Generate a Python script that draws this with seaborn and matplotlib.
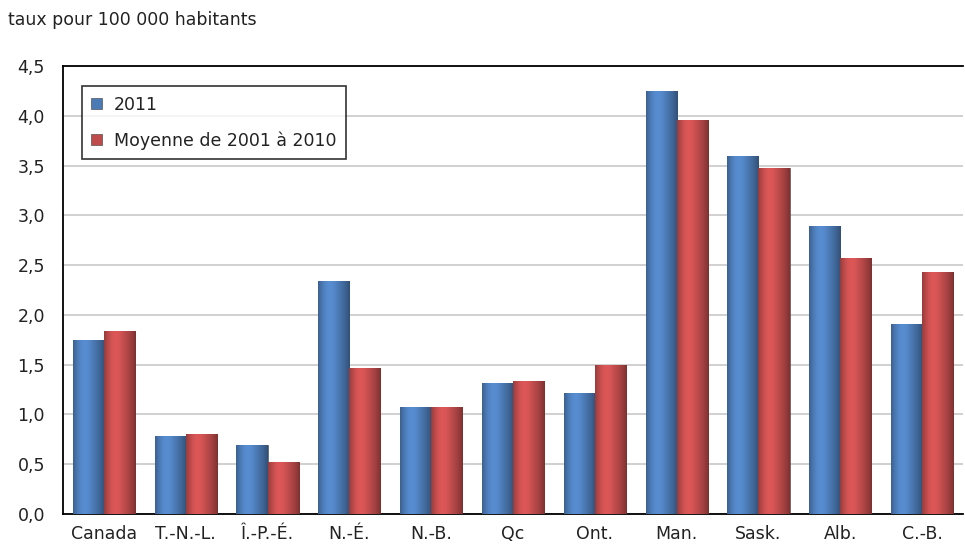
import numpy as np
import pandas as pd
import matplotlib
matplotlib.use("Agg")
import matplotlib.pyplot as plt
import seaborn as sns
from matplotlib.ticker import FuncFormatter, MultipleLocator, FixedLocator
from matplotlib.colors import to_rgb

regions = ["Canada", "T.-N.-L.", "Î.-P.-É.", "N.-É.", "N.-B.", "Qc", "Ont.",
           "Man.", "Sask.", "Alb.", "C.-B."]
rate_2011 = [1.75, 0.78, 0.69, 2.34, 1.07, 1.32, 1.22, 4.25, 3.60, 2.89, 1.91]
rate_avg = [1.84, 0.80, 0.52, 1.47, 1.07, 1.34, 1.50, 3.96, 3.48, 2.57, 2.43]
series_names = ["2011", "Moyenne de 2001 à 2010"]
colors = ["#3a78c6", "#d23838"]

df = pd.DataFrame({
    "region": regions * 2,
    "taux": rate_2011 + rate_avg,
    "serie": [series_names[0]] * len(regions) + [series_names[1]] * len(regions),
})

sns.set_style("white")
plt.rcParams["font.family"] = ["DejaVu Sans"]
FS = 12.5
TXT = "#222222"

fig = plt.figure(figsize=(9.65, 5.5), dpi=100)
ax = fig.add_axes([63 / 965, 1 - 514 / 550, 900 / 965, 448 / 550])

sns.barplot(data=df, x="region", y="taux", hue="serie", hue_order=series_names,
            palette=colors, width=0.76, edgecolor="#3a3a3a", linewidth=0.4,
            ax=ax, legend=True, zorder=3)

# horizontal shading on each bar for a rounded look
for patch in ax.patches:
    x0, y0 = patch.get_x(), patch.get_y()
    w, h = patch.get_width(), patch.get_height()
    if w <= 0 or h <= 0:
        continue
    base = np.array(to_rgb(patch.get_facecolor()))
    t = np.linspace(0, 1, 64)
    shade = 1.0 + 0.18 * np.exp(-((t - 0.35) / 0.28) ** 2) - 0.35 * t ** 4 - 0.25 * (1 - t) ** 6
    img = np.clip(base[None, :] * shade[:, None], 0, 1)[None, :, :]
    im = ax.imshow(img, extent=[x0, x0 + w, y0, y0 + h], aspect="auto",
                   zorder=3.5, interpolation="bilinear")
    im.set_clip_path(patch)

ax.set_xlim(-0.5, len(regions) - 0.5)
ax.set_ylim(0, 4.5)
ax.yaxis.set_major_locator(MultipleLocator(0.5))
ax.yaxis.set_major_formatter(FuncFormatter(lambda v, p: f"{v:.1f}".replace(".", ",")))
ax.grid(axis="y", color="#c8c8c8", linewidth=1.2, zorder=0)
ax.set_axisbelow(True)

ax.set_xlabel("")
ax.set_ylabel("")
ax.tick_params(axis="x", which="major", length=0, pad=8, labelsize=FS, colors=TXT)
ax.tick_params(axis="y", which="major", length=0, pad=13, labelsize=FS, colors=TXT)
ax.xaxis.set_minor_locator(FixedLocator(np.arange(0.5, len(regions) - 0.5, 1.0)))
ax.tick_params(axis="x", which="minor", length=6, width=1.2, color="black", direction="out")

for side in ["left", "bottom", "top"]:
    ax.spines[side].set_visible(True)
    ax.spines[side].set_color("black")
    ax.spines[side].set_linewidth(1.3)
ax.spines["right"].set_visible(False)

leg = ax.legend(loc="upper left", bbox_to_anchor=(0.021, 0.955), borderaxespad=0,
                frameon=True, fancybox=False, edgecolor="black", fontsize=FS,
                handlelength=0.6, handleheight=0.6, handletextpad=0.7,
                labelspacing=1.0, borderpad=0.55)
leg.get_frame().set_linewidth(1.2)
for txt in leg.get_texts():
    txt.set_color(TXT)

fig.text(8 / 965, 1 - 20 / 550, "taux pour 100 000 habitants", fontsize=FS,
         color=TXT, va="center", ha="left")

fig.savefig("out.png", dpi=100)
